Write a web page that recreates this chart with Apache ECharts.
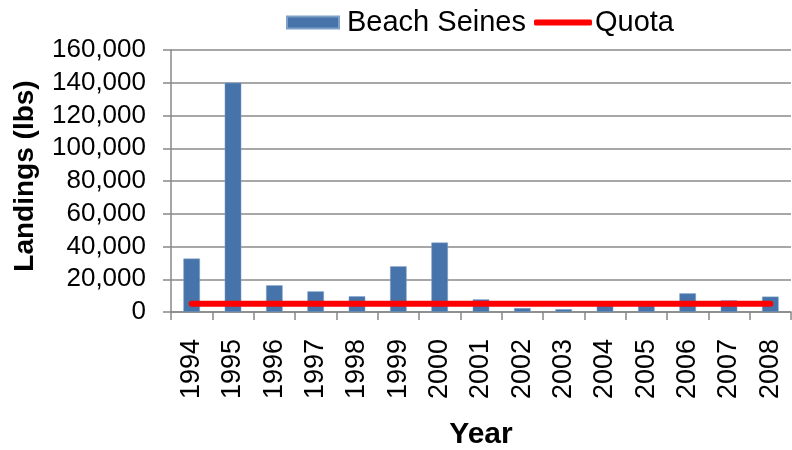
<!DOCTYPE html>
<html>
<head>
<meta charset="utf-8">
<script src="https://cdn.jsdelivr.net/npm/echarts@6/dist/echarts.min.js"></script>
<style>html,body{margin:0;padding:0;background:#fff}#c{width:792px;height:450px}</style>
</head>
<body>
<div id="c"></div>
<script>
var years = ['1994','1995','1996','1997','1998','1999','2000','2001','2002','2003','2004','2005','2006','2007','2008'];
var beachSeines = [32600, 140000, 16300, 12600, 9600, 27900, 42400, 7700, 2400, 1700, 4500, 4000, 11400, 7100, 9400];
var quota = [5000, 5000, 5000, 5000, 5000, 5000, 5000, 5000, 5000, 5000, 5000, 5000, 5000, 5000, 5000];
var yTicks = [0, 20000, 40000, 60000, 80000, 100000, 120000, 140000, 160000];

var font = '"Liberation Sans", Arial, sans-serif';
var chart = echarts.init(document.getElementById('c'), null, {renderer: 'canvas'});
chart.setOption({
  animation: false,
  textStyle: {fontFamily: font, color: '#000'},
  legend: [
    {
      top: 3, left: 281,
      itemWidth: 52, itemHeight: 12, itemGap: 0,
      textStyle: {fontFamily: font, fontSize: 29, color: '#000', padding: [0, 0, 0, 3]},
      data: [{name: 'Beach Seines', icon: 'rect'}]
    },
    {
      top: 3, left: 529,
      itemWidth: 58, itemHeight: 6, itemGap: 0,
      textStyle: {fontFamily: font, fontSize: 29, color: '#000', padding: [0, 0, 0, -2]},
      data: [{name: 'Quota', icon: 'roundRect', itemStyle: {color: '#FF0000'}}]
    }
  ],
  grid: {left: 171, right: 1, top: 50, bottom: 138, containLabel: false, outerBoundsMode: 'none'},
  xAxis: {
    type: 'category', data: years,
    name: 'Year', nameLocation: 'middle', nameGap: 108,
    nameTextStyle: {fontFamily: font, fontSize: 30, fontWeight: 'bold', color: '#000'},
    axisLine: {lineStyle: {color: '#888', width: 1.5}},
    axisTick: {show: true, length: 8, lineStyle: {color: '#888', width: 1.5}},
    axisLabel: {rotate: 90, fontSize: 27, fontFamily: font, color: '#000', margin: 27}
  },
  yAxis: {
    type: 'value', min: yTicks[0], max: yTicks[yTicks.length - 1], interval: 20000,
    name: 'Landings (lbs)', nameLocation: 'middle', nameGap: 132,
    nameTextStyle: {fontFamily: font, fontSize: 28, fontWeight: 'bold', color: '#000', padding: [0, 0, 0, 10]},
    axisLine: {show: true, lineStyle: {color: '#888', width: 1.5}},
    axisTick: {show: true, length: 8, lineStyle: {color: '#888', width: 1.5}},
    splitLine: {lineStyle: {color: '#8a8a8a', width: 1.5}},
    axisLabel: {fontSize: 26, fontFamily: font, color: '#000', margin: 25,
      formatter: function (v) { return v.toLocaleString('en-US'); }}
  },
  series: [
    {name: 'Beach Seines', type: 'bar', data: beachSeines, barWidth: '40%',
     itemStyle: {color: '#4674AA', borderColor: '#7fa0c8', borderWidth: 0.5}},
    {name: 'Quota', type: 'line', data: quota, symbol: 'none',
     lineStyle: {color: '#FF0000', width: 6, cap: 'round'},
     itemStyle: {color: '#FF0000'}}
  ]
});
</script>
</body>
</html>
